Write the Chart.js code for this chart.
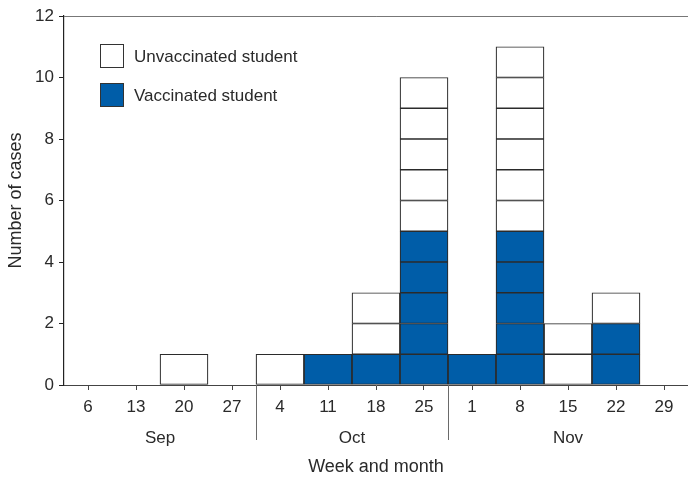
<!DOCTYPE html>
<html>
<head>
<meta charset="utf-8">
<script src="https://cdn.jsdelivr.net/npm/chart.js@4"></script>
<style>
  html, body { margin: 0; padding: 0; background: #fff; }
  #wrap { width: 688px; height: 479px; }
</style>
</head>
<body>
<div id="wrap"><canvas id="epiChart"></canvas></div>
<script>
// week labels (start day of each week)
var weeks = ['6', '13', '20', '27', '4', '11', '18', '25', '1', '8', '15', '22', '29'];
// cases per week
var vaccinated   = [0, 0, 0, 0, 0, 1, 1, 5, 1, 5, 0, 2, 0];
var unvaccinated = [0, 0, 1, 0, 1, 0, 2, 5, 0, 6, 2, 1, 0];
// months and the index of the first week in each
var months = ['Sep', 'Oct', 'Nov'];
var monthStart = [0, 4, 8];

var blue = '#005da8';
var textColor = '#2a2a2a';
var fontFamily = '"Liberation Sans", Arial, sans-serif';

// one dataset per stacked box, so each case is drawn as its own cell
var datasets = [];
function addLayers(counts, color) {
  var maxCount = Math.max.apply(null, counts);
  for (var k = 1; k <= maxCount; k++) {
    datasets.push({
      data: counts.map(function(c) { return c >= k ? 1 : null; }),
      backgroundColor: color,
      borderColor: '#2b2b2b',
      borderWidth: 1.2,
      borderSkipped: false,
      barPercentage: 1,
      categoryPercentage: 1
    });
  }
}
addLayers(vaccinated, blue);
addLayers(unvaccinated, '#ffffff');

var extras = {
  id: 'extras',
  afterDraw: function(chart) {
    var ctx = chart.ctx;
    var area = chart.chartArea;
    var x = chart.scales.x;
    ctx.save();

    // month separators
    ctx.strokeStyle = '#6a6a6a';
    ctx.lineWidth = 1;
    for (var i = 1; i < monthStart.length; i++) {
      var sx = Math.round((x.getPixelForValue(monthStart[i] - 1) + x.getPixelForValue(monthStart[i])) / 2) + 0.5;
      ctx.beginPath();
      ctx.moveTo(sx, area.bottom);
      ctx.lineTo(sx, area.bottom + 55);
      ctx.stroke();
    }

    // month labels
    ctx.fillStyle = textColor;
    ctx.font = '17px ' + fontFamily;
    ctx.textAlign = 'center';
    ctx.textBaseline = 'middle';
    for (var m = 0; m < months.length; m++) {
      var first = monthStart[m];
      var last = (m + 1 < monthStart.length ? monthStart[m + 1] : weeks.length) - 1;
      var cx = (x.getPixelForValue(first) + x.getPixelForValue(last)) / 2;
      ctx.fillText(months[m], cx, area.bottom + 53);
    }

    // legend inside plot
    var items = [['Unvaccinated student', '#ffffff'], ['Vaccinated student', blue]];
    var lx = area.left + 36, ly = area.top + 28;
    ctx.textAlign = 'left';
    ctx.font = '17px ' + fontFamily;
    for (var j = 0; j < items.length; j++) {
      var by = ly + j * 39;
      ctx.fillStyle = items[j][1];
      ctx.fillRect(lx, by, 24, 24);
      ctx.strokeStyle = '#333';
      ctx.lineWidth = 1;
      ctx.strokeRect(lx + 0.5, by + 0.5, 23, 23);
      ctx.fillStyle = textColor;
      ctx.fillText(items[j][0], lx + 34, by + 13);
    }
    ctx.restore();
  }
};

var ctx = document.getElementById('epiChart');
var chart = new Chart(ctx, {
  type: 'bar',
  data: { labels: weeks, datasets: datasets },
  options: {
    responsive: true,
    maintainAspectRatio: false,
    animation: false,
    layout: { padding: { top: 16, right: 0, left: 0, bottom: 0 } },
    plugins: {
      legend: { display: false },
      tooltip: { enabled: false }
    },
    scales: {
      x: {
        stacked: true,
        afterFit: function(scale) { scale.height = 94; },
        grid: {
          offset: false,
          drawOnChartArea: false,
          drawTicks: true,
          tickLength: 5,
          tickColor: '#444'
        },
        border: { color: '#444', width: 1 },
        ticks: {
          color: textColor,
          font: { family: fontFamily, size: 17 },
          padding: 7,
          maxRotation: 0,
          autoSkip: false
        },
        title: {
          display: true,
          text: 'Week and month',
          color: textColor,
          font: { family: fontFamily, size: 18 },
          padding: { top: 0, bottom: 1 }
        }
      },
      y: {
        stacked: true,
        min: 0,
        max: 12,
        afterFit: function(scale) { scale.width = 64; },
        grid: {
          drawOnChartArea: true,
          drawTicks: true,
          tickLength: 5,
          tickColor: '#222',
          color: function(c) { return c.tick && c.tick.value === 12 ? '#777' : 'rgba(0,0,0,0)'; }
        },
        border: { color: '#222', width: 1.2 },
        ticks: {
          stepSize: 2,
          color: textColor,
          font: { family: fontFamily, size: 17 },
          padding: 5
        },
        title: {
          display: true,
          text: 'Number of cases',
          color: textColor,
          font: { family: fontFamily, size: 18 },
          padding: { top: 5, bottom: 4 }
        }
      }
    }
  },
  plugins: [extras]
});
</script>
</body>
</html>
